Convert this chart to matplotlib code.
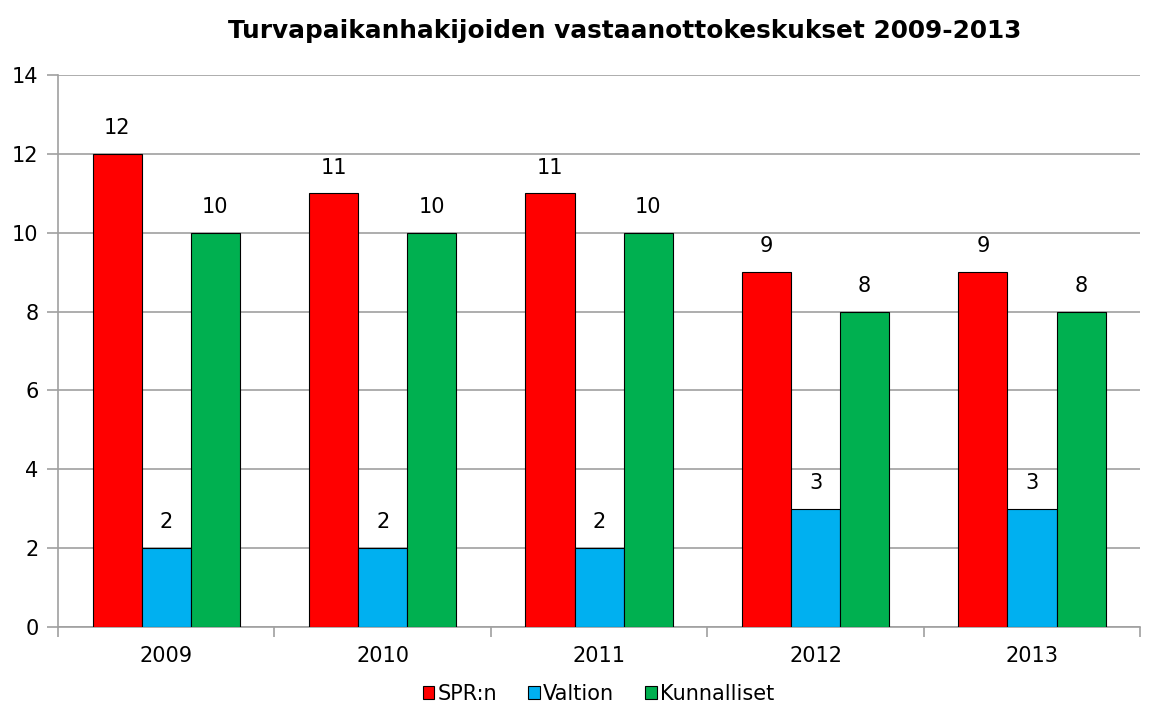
import numpy as np
import matplotlib.pyplot as plt
from matplotlib.ticker import FixedLocator

# Data
years = ["2009", "2010", "2011", "2012", "2013"]
spr = [12, 11, 11, 9, 9]
valtion = [2, 2, 2, 3, 3]
kunnalliset = [10, 10, 10, 8, 8]

series = [("SPR:n", spr, "#ff0000"),
          ("Valtion", valtion, "#00b0f0"),
          ("Kunnalliset", kunnalliset, "#00b050")]

fig = plt.figure(figsize=(11.55, 7.14), dpi=100)
ax = fig.add_axes([0.0502, 0.1218, 0.937, 0.7731])

x = np.arange(len(years))
w = 0.227
for i, (name, vals, col) in enumerate(series):
    pos = x + (i - 1) * w
    bars = ax.bar(pos, vals, w, color=col, edgecolor="black", linewidth=0.8,
                  label=name, zorder=3)
    for b, v in zip(bars, vals):
        ax.text(b.get_x() + b.get_width() / 2, v + 0.4, str(v),
                ha="center", va="bottom", fontsize=15, color="black")

ax.set_xlim(-0.5, len(years) - 0.5)
ax.set_ylim(0, 14)
ax.set_yticks(range(0, 15, 2))
ax.set_xticks(x)
ax.set_xticklabels(years, fontsize=15)
ax.tick_params(axis="x", length=0, pad=14)
ax.xaxis.set_minor_locator(FixedLocator(np.arange(-0.5, len(years), 1.0)))
ax.tick_params(axis="x", which="minor", length=7, color="#a0a0a0", width=1.2)
ax.tick_params(axis="y", length=8, color="#a0a0a0", width=1.2, labelsize=15, pad=6)

ax.grid(axis="y", color="#a0a0a0", linewidth=1.2, zorder=0)
for s in ["top", "right"]:
    ax.spines[s].set_visible(False)
for s in ["left", "bottom"]:
    ax.spines[s].set_color("#a0a0a0")
    ax.spines[s].set_linewidth(1.2)

ax.set_title("Turvapaikanhakijoiden vastaanottokeskukset 2009-2013",
             fontsize=17.8, fontweight="bold", pad=27, x=0.524)

fig.legend(loc="lower center", bbox_to_anchor=(0.518, -0.012), ncol=3, frameon=False,
           fontsize=15, handlelength=0.55, handleheight=0.55, handletextpad=0.15,
           columnspacing=1.5)

fig.savefig("out.png", dpi=100)
